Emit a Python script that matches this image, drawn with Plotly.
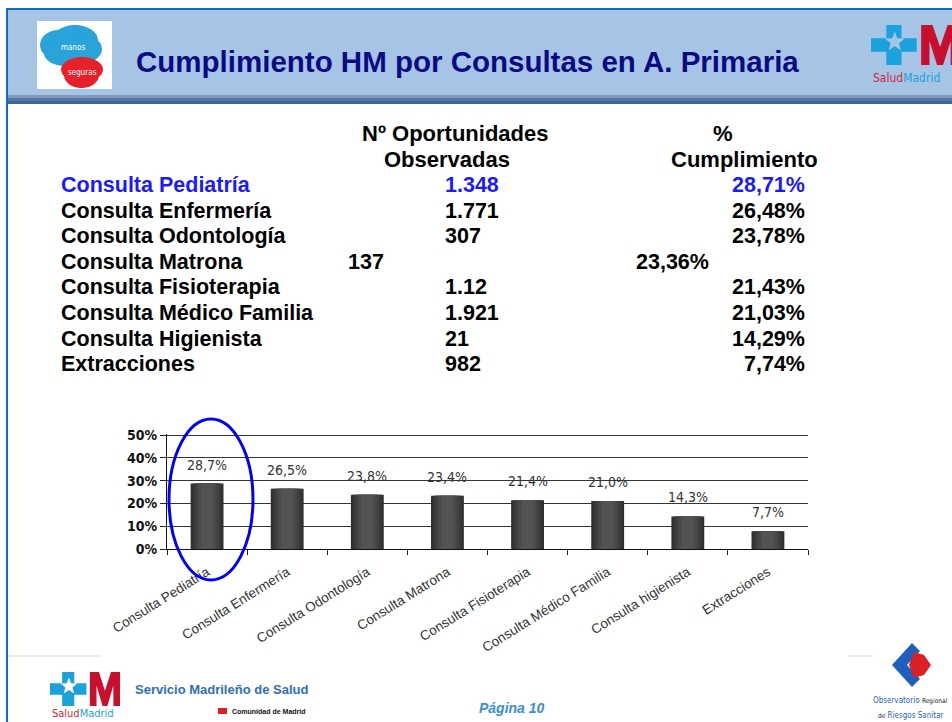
import math
import plotly.graph_objects as go

# ---------------- data ----------------
table_rows = ["Consulta Pediatría", "Consulta Enfermería", "Consulta Odontología",
              "Consulta Matrona", "Consulta Fisioterapia", "Consulta Médico Familia",
              "Consulta Higienista", "Extracciones"]
oportunidades = ["1.348", "1.771", "307", "137", "1.12", "1.921", "21", "982"]
cumplimiento_txt = ["28,71%", "26,48%", "23,78%", "23,36%", "21,43%", "21,03%", "14,29%", "7,74%"]

chart_categories = ["Consulta Pediatría", "Consulta Enfermería", "Consulta Odontología",
                    "Consulta Matrona", "Consulta Fisioterapia", "Consulta Médico Familia",
                    "Consulta higienista", "Extracciones"]
cumplimiento_pct = [28.71, 26.48, 23.78, 23.36, 21.43, 21.03, 14.29, 7.74]
bar_labels = ["28,7%", "26,5%", "23,8%", "23,4%", "21,4%", "21,0%", "14,3%", "7,7%"]
y_tick_vals = [0, 10, 20, 30, 40, 50]
y_tick_text = ["0%", "10%", "20%", "30%", "40%", "50%"]

title_text = "Cumplimiento HM por Consultas en A. Primaria"

NARROW = "DejaVu Sans Condensed, Liberation Sans Narrow, Arial Narrow, Liberation Sans"
SANS = "Liberation Sans, Arial, sans-serif"

# ---------------- helpers ----------------
W, H = 952, 722
def X(px): return px / W
def Y(py): return 1 - py / H

shapes = []
annotations = []

def rect(x0, y0, x1, y1, fill, layer="below"):
    shapes.append(dict(type="rect", xref="paper", yref="paper",
                       x0=X(x0), x1=X(x1), y0=Y(y1), y1=Y(y0),
                       fillcolor=fill, line=dict(width=0), layer=layer))

def circle(x0, y0, x1, y1, fill, layer="below"):
    shapes.append(dict(type="circle", xref="paper", yref="paper",
                       x0=X(x0), x1=X(x1), y0=Y(y1), y1=Y(y0),
                       fillcolor=fill, line=dict(width=0), layer=layer))

def poly(points, fill, layer="above"):
    d = "M " + " L ".join(f"{X(a):.5f},{Y(b):.5f}" for a, b in points) + " Z"
    shapes.append(dict(type="path", xref="paper", yref="paper", path=d,
                       fillcolor=fill, line=dict(width=0), layer=layer))

def text(x, y, s, size, color, xanchor="left", bold=False, italic=False, family=SANS):
    annotations.append(dict(xref="paper", yref="paper", x=X(x), y=Y(y), text=s,
                            showarrow=False, xanchor=xanchor, yanchor="middle",
                            font=dict(size=size, color=color, family=family,
                                      weight="bold" if bold else "normal",
                                      style="italic" if italic else "normal")))

def star_points(cx, cy, r_out, r_in):
    pts = []
    for k in range(10):
        ang = -math.pi / 2 + k * math.pi / 5
        r = r_out if k % 2 == 0 else r_in
        pts.append((cx + r * math.cos(ang), cy + r * math.sin(ang)))
    return pts

def salud_logo(x0, y0, w, h, text_y, text_size, bg):
    cw = w * 0.52
    a = cw / 3
    poly([(x0 + a, y0), (x0 + 2 * a, y0), (x0 + 2 * a, y0 + h / 3), (x0 + cw, y0 + h / 3),
          (x0 + cw, y0 + 2 * h / 3), (x0 + 2 * a, y0 + 2 * h / 3), (x0 + 2 * a, y0 + h),
          (x0 + a, y0 + h), (x0 + a, y0 + 2 * h / 3), (x0, y0 + 2 * h / 3),
          (x0, y0 + h / 3), (x0 + a, y0 + h / 3)], "#1ba1dc")
    poly(star_points(x0 + cw * 0.52, y0 + h * 0.42, h * 0.26, h * 0.11), bg)
    mx = x0 + cw + w * 0.05
    mw = w - (mx - x0)
    poly([(mx, y0 + h), (mx, y0), (mx + mw * 0.3, y0), (mx + mw * 0.5, y0 + h * 0.55),
          (mx + mw * 0.7, y0), (mx + mw, y0), (mx + mw, y0 + h), (mx + mw * 0.78, y0 + h),
          (mx + mw * 0.78, y0 + h * 0.4), (mx + mw * 0.58, y0 + h), (mx + mw * 0.42, y0 + h),
          (mx + mw * 0.22, y0 + h * 0.4), (mx + mw * 0.22, y0 + h)], "#c8102e")
    annotations.append(dict(xref="paper", yref="paper", x=X(x0), y=Y(text_y),
                            text="<span style='color:#d0243a'>Salud</span><span style='color:#1ba1dc'>Madrid</span>",
                            showarrow=False, xanchor="left", yanchor="middle",
                            font=dict(size=text_size, family=NARROW)))

# ---------------- slide decoration ----------------
rect(8, 10, 952, 95, "#a6c4e6")
rect(8, 95, 952, 98, "#8299bb")
rect(8, 98, 952, 101, "#5577a6")
rect(8, 101, 952, 104, "#3b6599")
rect(6, 8, 952, 10, "#0a6ec8")
rect(6, 8, 8, 722, "#0a6ec8")

# manos seguras logo
rect(37, 21, 112, 89, "#ffffff")
for c in [(40, 30, 76, 60), (52, 25, 98, 56), (44, 40, 86, 66), (68, 36, 102, 62)]:
    circle(*c, "#2aa3db")
for c in [(61, 57, 103, 82), (64, 62, 99, 88)]:
    circle(*c, "#e8202a")
text(73, 47, "manos", 8, "#ffffff", xanchor="center", family=NARROW)
text(82, 72, "seguras", 8, "#ffffff", xanchor="center", family=NARROW)

# title
text(467, 62, title_text, 29.5, "#0a0a84", xanchor="center", bold=True)

# header right logo
salud_logo(871, 25, 88, 40, 78, 12, "#a6c4e6")

# footer separators
rect(8, 655.5, 102, 656.5, "#d8d8d8")
rect(848, 655.5, 873, 656.5, "#d8d8d8")

# footer left logo
salud_logo(50, 672, 70, 34, 713, 11, "#ffffff")
text(133, 689, "Servicio Madrileño de Salud", 13, "#2f6eb5", bold=True)
rect(218, 708, 227, 714, "#e02020")
text(230, 711, "Comunidad de Madrid", 7, "#111111", bold=True)
text(512, 708, "Página 10", 14, "#3d8fd6", xanchor="center", bold=True, italic=True)

# footer right logo
poly([(912, 643), (892, 665), (912, 687), (920, 679), (907, 665), (920, 651)], "#1f5fbf")
poly([(914, 652), (924, 655), (931, 665), (924, 675), (914, 678), (909, 665)], "#dd1f26")
annotations.append(dict(xref="paper", yref="paper", x=X(871), y=Y(700), showarrow=False,
                        xanchor="left", yanchor="middle",
                        text="<span style='color:#1f5fbf'>Observatorio</span> <span style='color:#222;font-size:6.5px'>Regional</span>",
                        font=dict(size=8, family=NARROW)))
annotations.append(dict(xref="paper", yref="paper", x=X(876), y=Y(715), showarrow=False,
                        xanchor="left", yanchor="middle",
                        text="<span style='color:#222;font-size:6.5px'>de</span> <span style='color:#1f5fbf'>Riesgos Sanitar</span>",
                        font=dict(size=8, family=NARROW)))

# ---------------- table ----------------
text(455, 133, "Nº Oportunidades", 22, "#000000", xanchor="center", bold=True)
text(447, 159, "Observadas", 22, "#000000", xanchor="center", bold=True)
text(723, 133, "%", 22, "#000000", xanchor="center", bold=True)
text(744, 159, "Cumplimiento", 22, "#000000", xanchor="center", bold=True)

row_y0, row_dy = 185, 25.6
for i, name in enumerate(table_rows):
    yy = row_y0 + i * row_dy
    col = "#1a1aff" if i == 0 else "#000000"
    text(59, yy, name, 21.5, col, bold=True)
    if name == "Consulta Matrona":
        text(346, yy, oportunidades[i], 21.5, col, bold=True)
        text(711, yy, cumplimiento_txt[i], 21.5, col, xanchor="right", bold=True)
    else:
        text(443, yy, oportunidades[i], 21.5, col, bold=True)
        text(807, yy, cumplimiento_txt[i], 21.5, col, xanchor="right", bold=True)

# ---------------- bar chart ----------------
fig = go.Figure()
for wdt, colr in [(0.41, "#2f2f2f"), (0.36, "#383838"), (0.30, "#414141"),
                  (0.23, "#4a4a4a"), (0.15, "#535353")]:
    fig.add_trace(go.Bar(x=chart_categories, y=cumplimiento_pct, width=wdt,
                         marker=dict(color=colr, line=dict(width=0)),
                         hoverinfo="skip"))

for cat, val, lab in zip(chart_categories, cumplimiento_pct, bar_labels):
    annotations.append(dict(xref="x", yref="y", x=cat, y=val, text=lab, showarrow=False,
                            xanchor="center", yanchor="middle", yshift=19,
                            font=dict(size=14, color="#333333", family=NARROW)))

shapes.append(dict(type="circle", xref="paper", yref="paper",
                   x0=X(169), x1=X(253), y0=Y(580), y1=Y(419),
                   line=dict(color="#0000ff", width=3), fillcolor="rgba(0,0,0,0)", layer="above"))

y_top = 50.5
fig.update_layout(
    width=W, height=H, autosize=False,
    margin=dict(l=0, r=0, t=0, b=0, pad=0, autoexpand=False),
    paper_bgcolor="#ffffff", plot_bgcolor="#ffffff",
    showlegend=False, barmode="overlay",
    shapes=shapes, annotations=annotations,
    xaxis=dict(domain=[X(167), X(808)], type="category", automargin=False,
               tickangle=-32, tickfont=dict(size=13.5, color="#333333", family=SANS),
               ticks="outside", tickson="boundaries", ticklen=5, tickcolor="#222222",
               ticklabelstandoff=9,
               showline=True, linecolor="#111111", linewidth=1.2, showgrid=False,
               fixedrange=True),
    yaxis=dict(domain=[Y(549), Y(549 - y_top * 2.28)], range=[0, y_top], automargin=False,
               tickvals=y_tick_vals, ticktext=y_tick_text,
               tickfont=dict(size=14, color="#111111", weight="bold", family=NARROW),
               ticks="outside", ticklen=6, tickcolor="#222222",
               showgrid=True, gridcolor="#333333", gridwidth=1.2,
               showline=True, linecolor="#111111", linewidth=1.2, zeroline=False,
               fixedrange=True),
)

fig.write_html("out.html", config={"displayModeBar": False},
               post_script="document.body.style.margin='0px';document.body.style.overflow='hidden';")
